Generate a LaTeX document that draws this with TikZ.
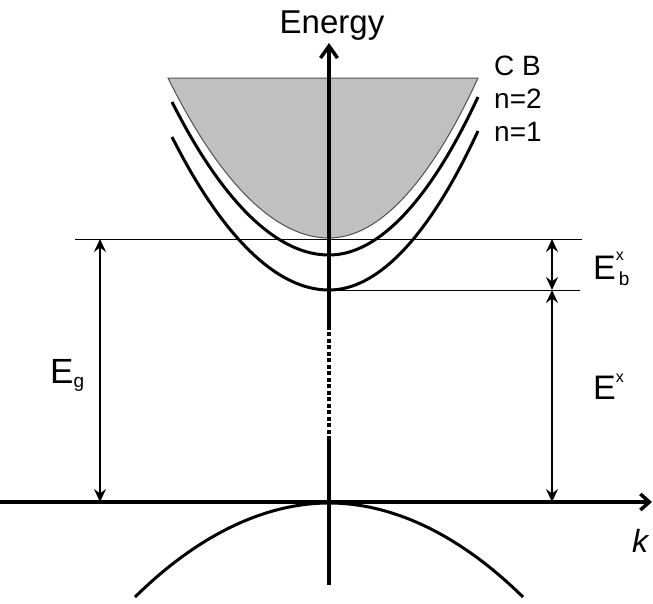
\documentclass[tikz,border=0pt]{standalone}
\usepackage{fontspec}
\setmainfont{Liberation Sans}
\usetikzlibrary{arrows.meta}
\definecolor{bandgray}{RGB}{192,192,192}
\definecolor{edgegray}{RGB}{80,80,80}

\begin{document}
\begin{tikzpicture}[x=1pt, y=-1pt,
    band/.style={line width=3pt},
    axis/.style={line width=3.5pt},
    level/.style={line width=1pt},
    dim/.style={line width=2pt, {Stealth[length=13pt,width=12pt,inset=4.5pt]}-{Stealth[length=13pt,width=12pt,inset=4.5pt]}},
    lbl/.style={inner sep=0pt, anchor=base west}]
  \useasboundingbox (0,0) rectangle (653,603);
  % conduction band and exciton levels
  \coordinate (cbL) at (168,78);  \coordinate (cbB) at (329,238); \coordinate (cbR) at (478,78);
  \coordinate (n2L) at (172,102); \coordinate (n2B) at (329,255); \coordinate (n2R) at (478,97);
  \coordinate (n1L) at (172,137); \coordinate (n1B) at (329,290); \coordinate (n1R) at (478,131);
  \coordinate (vbL) at (135,597); \coordinate (vbT) at (329,503); \coordinate (vbR) at (523,597);
  \filldraw[fill=bandgray, draw=edgegray, line width=1pt] (cbL) parabola bend (cbB) (cbR) -- cycle;
  \draw[band] (n2L) parabola bend (n2B) (n2R);
  \draw[band] (n1L) parabola bend (n1B) (n1R);
  \draw[band] (vbL) parabola bend (vbT) (vbR);
  % levels
  \coordinate (gapL) at (75,239);  \coordinate (gapR) at (582,239);
  \coordinate (exR) at (580,290);
  \draw[level] (gapL) -- (gapR);
  \draw[level] (n1B) -- (exR);
  % axes
  \coordinate (vbot) at (329,585); \coordinate (dotlo) at (329,440);
  \coordinate (dothi) at (329,328); \coordinate (vtop) at (329,43);
  \coordinate (hleft) at (0,502);  \coordinate (hright) at (652,502);
  \draw[axis] (vbot) -- (dotlo);
  \draw[axis, dash pattern=on 4pt off 2.5pt] (dotlo) -- (dothi);
  \draw[axis, -{Straight Barb[length=12pt,width=17pt]}] (dothi) -- (vtop);
  \draw[axis, -{Straight Barb[length=9pt,width=16pt]}] (hleft) -- (hright);
  % energies
  \coordinate (egT) at (100,239);  \coordinate (egB) at (100,502);
  \coordinate (exT) at (552,239);  \coordinate (exM) at (552,290); \coordinate (exB) at (552,502);
  \draw[dim] (egT) -- (egB);
  \draw[dim] (exT) -- (exM);
  \draw[dim] (exM) -- (exB);
  % labels
  \node[lbl, anchor=base] (energy) at (332,33) {\fontsize{33}{36}\selectfont Energy};
  \node[lbl] (cb) at (494,75) {\fontsize{28}{30}\selectfont C B};
  \node[lbl] (n2) at (494,108) {\fontsize{28}{30}\selectfont n=2};
  \node[lbl] (n1) at (494,141) {\fontsize{28}{30}\selectfont n=1};
  \node[lbl] (eg) at (50,383) {\fontsize{35}{36}\selectfont E\raisebox{-4pt}{\fontsize{19}{20}\selectfont g}};
  \node[lbl] (exb) at (593,279) {\fontsize{34}{36}\selectfont E\rlap{\raisebox{19pt}{\fontsize{16}{18}\selectfont x}}\hspace{3pt}\raisebox{-6pt}{\fontsize{19}{20}\selectfont b}};
  \node[lbl] (ex) at (593,399) {\fontsize{34}{36}\selectfont E\raisebox{17pt}{\fontsize{16}{18}\selectfont x}};
  \node[lbl] (k) at (632,552) {\fontsize{32}{34}\selectfont\itshape k};
\end{tikzpicture}
\end{document}
